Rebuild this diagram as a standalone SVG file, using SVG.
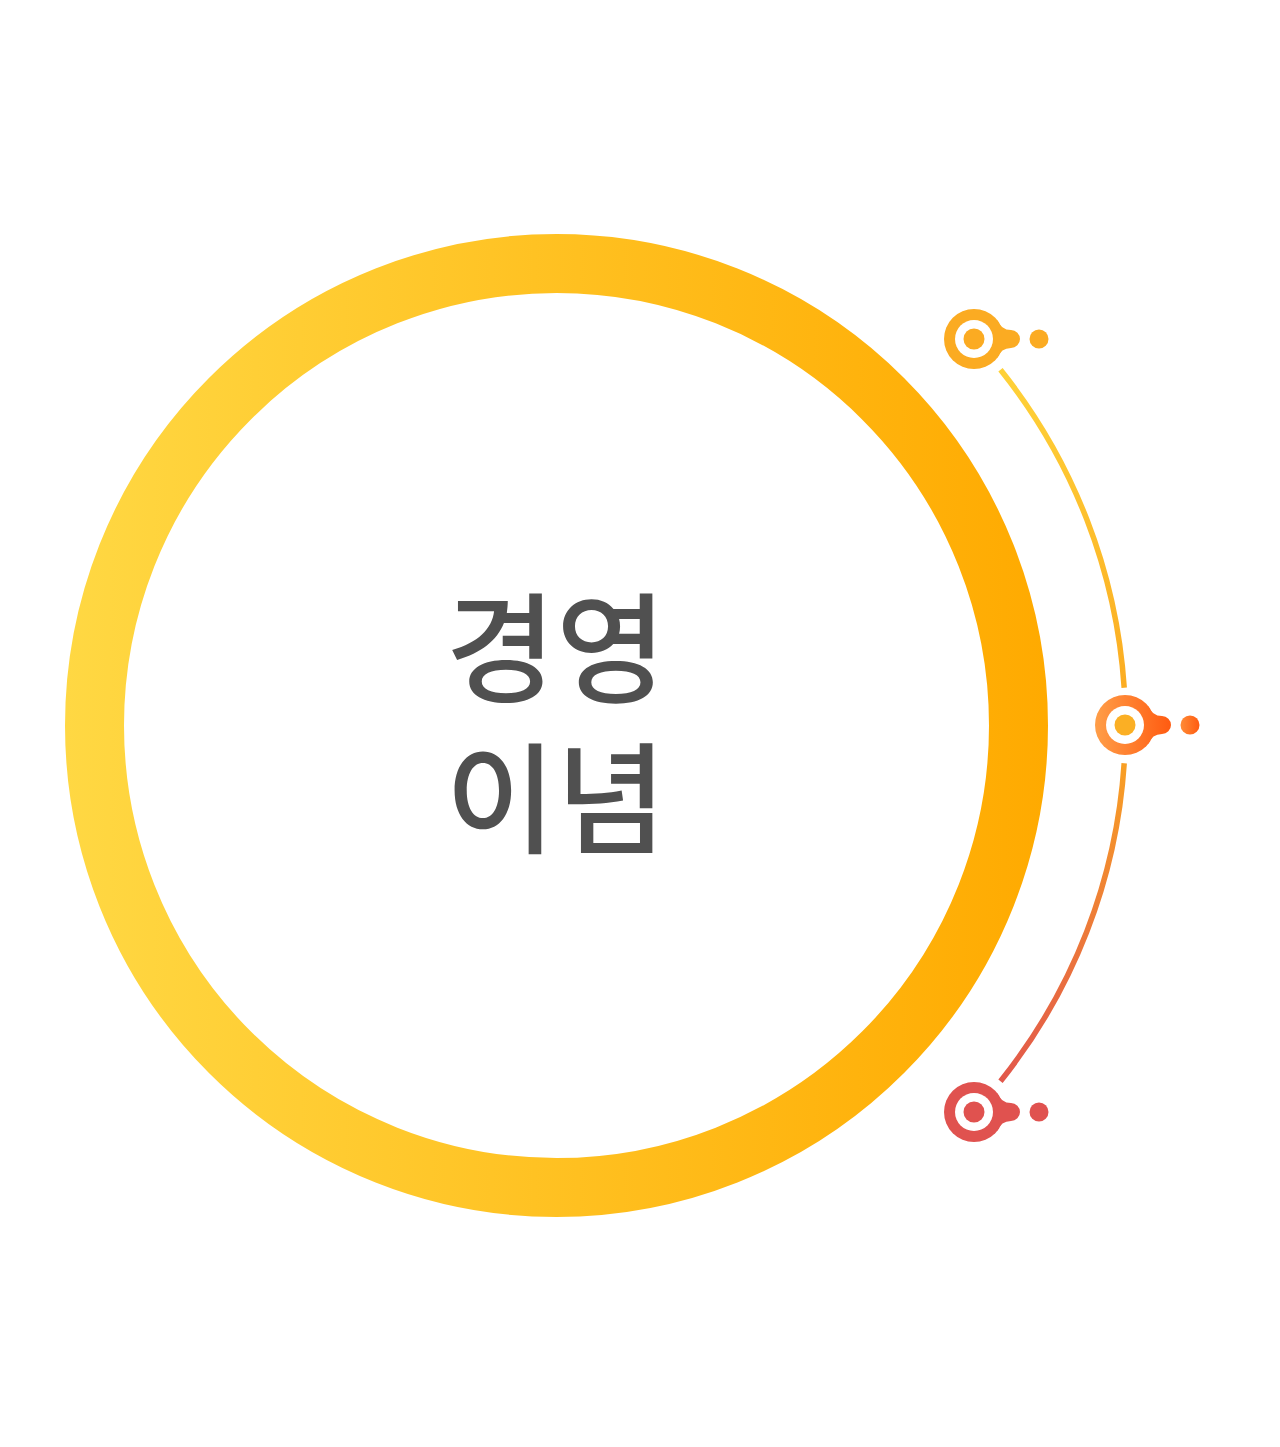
<svg xmlns="http://www.w3.org/2000/svg" width="1280" height="1447" viewBox="0 0 1280 1447">
  <defs>
    <linearGradient id="ringGrad" x1="65" y1="0" x2="1048" y2="0" gradientUnits="userSpaceOnUse">
      <stop offset="0" stop-color="#FFD843"/>
      <stop offset="1" stop-color="#FFAA00"/>
    </linearGradient>
    <linearGradient id="arcGrad" x1="0" y1="340" x2="0" y2="1112" gradientUnits="userSpaceOnUse">
      <stop offset="0" stop-color="#FFD53A"/>
      <stop offset="0.5" stop-color="#FBA820"/>
      <stop offset="1" stop-color="#E0514F"/>
    </linearGradient>
    <linearGradient id="midGrad" x1="1095" y1="0" x2="1172" y2="0" gradientUnits="userSpaceOnUse">
      <stop offset="0" stop-color="#FF9E48"/>
      <stop offset="1" stop-color="#FF5A10"/>
    </linearGradient>
    <linearGradient id="midDotGrad" x1="1181" y1="0" x2="1200" y2="0" gradientUnits="userSpaceOnUse">
      <stop offset="0" stop-color="#FF8A35"/>
      <stop offset="1" stop-color="#FF5A10"/>
    </linearGradient>
    <g id="pin">
      <circle cx="0" cy="0" r="30"/>
      <path d="M23,-19.3 Q27,-9 37,-9 A9,9 0 0 1 37,9 Q27,9 23,19.3 Z"/>
      <circle cx="65" cy="0" r="9.5"/>
    </g>
  </defs>
  <style>
    .label { font-family: "Noto Sans CJK KR", "Noto Sans", sans-serif; font-size: 120px; font-weight: 500; fill: #505050; text-anchor: middle; }
    .arc { fill: none; stroke: url(#arcGrad); stroke-width: 5.5; }
  </style>
  <rect width="1280" height="1447" fill="#FFFFFF"/>

  <g id="main-circle">
    <circle cx="556.5" cy="725.5" r="462" fill="none" stroke="url(#ringGrad)" stroke-width="59"/>
    <text class="label"><tspan x="556" y="694">경영</tspan><tspan x="556" y="844">이념</tspan></text>
  </g>

  <g id="connectors">
    <path class="arc" d="M1000.5,369.8 A569,569 0 0 1 1124.2,687.8"/>
    <path class="arc" d="M1124.2,763.2 A569,569 0 0 1 1000.5,1081.2"/>
  </g>

  <g id="marker-top">
    <use href="#pin" x="974" y="339" fill="#FBAB22"/>
    <circle cx="974" cy="339" r="19" fill="#FFFFFF"/>
    <circle cx="974" cy="339" r="10.5" fill="#FBAB22"/>
  </g>

  <g id="marker-middle">
    <circle cx="1125" cy="725" r="30" fill="url(#midGrad)"/>
    <path d="M1148,705.7 Q1152,716 1162,716 A9,9 0 0 1 1162,734 Q1152,734 1148,744.3 Z" fill="url(#midGrad)"/>
    <circle cx="1190" cy="725" r="9.5" fill="url(#midDotGrad)"/>
    <circle cx="1125" cy="725" r="19" fill="#FFFFFF"/>
    <circle cx="1125" cy="725" r="10.5" fill="#FBAF24"/>
  </g>

  <g id="marker-bottom">
    <use href="#pin" x="974" y="1112" fill="#E0524F"/>
    <circle cx="974" cy="1112" r="19" fill="#FFFFFF"/>
    <circle cx="974" cy="1112" r="10.5" fill="#E0524F"/>
  </g>
</svg>
